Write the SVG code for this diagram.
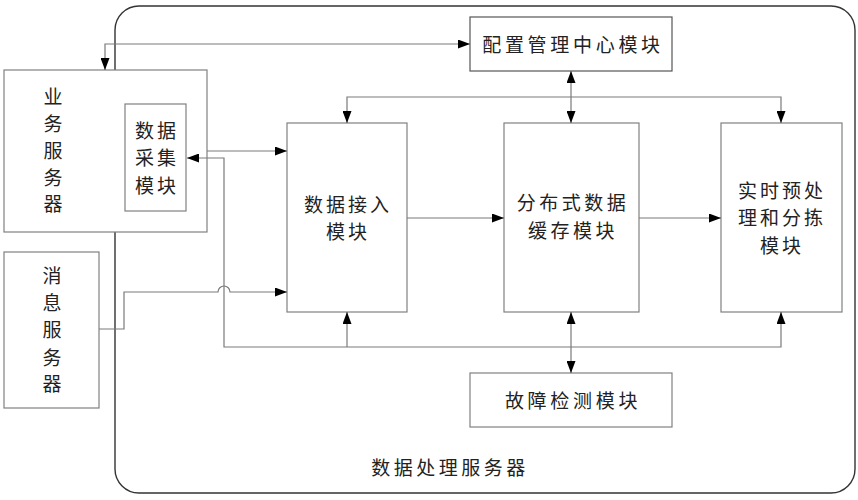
<svg xmlns="http://www.w3.org/2000/svg" width="858" height="500" viewBox="0 0 858 500">
<style>
.box{fill:#fff;stroke:#808080;stroke-width:1.2}
.dark{stroke:#555}
.t{font-family:"Noto Sans CJK SC","Noto Sans",sans-serif;font-size:19px;fill:#222;text-anchor:middle}
.ln{fill:none;stroke:#7a7a7a;stroke-width:1.2}
</style>
<defs>
<marker id="ah" viewBox="0 0 12 9" refX="12" refY="4.5" markerWidth="12" markerHeight="9" markerUnits="userSpaceOnUse" orient="auto-start-reverse">
<path d="M0,0 L12,4.5 L0,9 z" fill="#000"/>
</marker>
</defs>
<rect fill="#fff" width="858" height="500"/>
<g id="data-processing-server">
<rect x="115" y="6" width="740" height="487" rx="24" fill="none" stroke="#333" stroke-width="1.4"/>
<text class="t" x="450" y="475" letter-spacing="3.5">数据处理服务器</text>
</g>
<g id="business-server">
<rect class="box" x="4" y="70" width="203" height="162"/>
<text class="t"><tspan x="53" y="104">业</tspan><tspan x="53" y="131">务</tspan><tspan x="53" y="158">服</tspan><tspan x="53" y="185">务</tspan><tspan x="53" y="211">器</tspan></text>
</g>
<g id="message-server">
<rect class="box" x="4" y="252" width="95" height="156"/>
<text class="t"><tspan x="52" y="283">消</tspan><tspan x="52" y="310">息</tspan><tspan x="52" y="337">服</tspan><tspan x="52" y="365">务</tspan><tspan x="52" y="391">器</tspan></text>
</g>
<g id="data-collection">
<rect class="box" x="125" y="104" width="61" height="107"/>
<text class="t" letter-spacing="3"><tspan x="157" y="138">数据</tspan><tspan x="157" y="165">采集</tspan><tspan x="157" y="193">模块</tspan></text>
</g>
<g id="config-center">
<rect class="box dark" x="470" y="17" width="202" height="54"/>
<text class="t" x="573" y="52" letter-spacing="3.7">配置管理中心模块</text>
</g>
<g id="data-access">
<rect class="box" x="287" y="123" width="120" height="189"/>
<text class="t" letter-spacing="3"><tspan x="348" y="212">数据接入</tspan><tspan x="348" y="239">模块</tspan></text>
</g>
<g id="distributed-cache">
<rect class="box" x="504" y="123" width="135" height="189"/>
<text class="t" letter-spacing="3.5"><tspan x="573" y="210">分布式数据</tspan><tspan x="573" y="238">缓存模块</tspan></text>
</g>
<g id="realtime-preprocess">
<rect class="box" x="721" y="123" width="121" height="189"/>
<text class="t" letter-spacing="3"><tspan x="782" y="198">实时预处</tspan><tspan x="782" y="225">理和分拣</tspan><tspan x="782" y="253">模块</tspan></text>
</g>
<g id="fault-detection">
<rect class="box" x="470" y="373" width="202" height="54"/>
<text class="t" x="573" y="408" letter-spacing="3.7">故障检测模块</text>
</g>
<g id="connectors">
<path class="ln" d="M470,44 H105 V70" marker-start="url(#ah)" marker-end="url(#ah)"/>
<path class="ln" d="M571,71 V123" marker-start="url(#ah)" marker-end="url(#ah)"/>
<path class="ln" d="M347,123 V97 H781 V123" marker-start="url(#ah)" marker-end="url(#ah)"/>
<path class="ln" d="M187,158 H224 V347 H781 V312" marker-start="url(#ah)" marker-end="url(#ah)"/>
<path class="ln" d="M347,347 V312" marker-end="url(#ah)"/>
<path class="ln" d="M571,312 V373" marker-start="url(#ah)" marker-end="url(#ah)"/>
<path class="ln" d="M407,218 H504" marker-end="url(#ah)"/>
<path class="ln" d="M639,218 H721" marker-end="url(#ah)"/>
<path class="ln" d="M207,151 H287" marker-end="url(#ah)"/>
<path class="ln" d="M99,329 H124 V292 H218 A6,6 0 0 1 230,292 H287" marker-end="url(#ah)"/>
</g>
</svg>
